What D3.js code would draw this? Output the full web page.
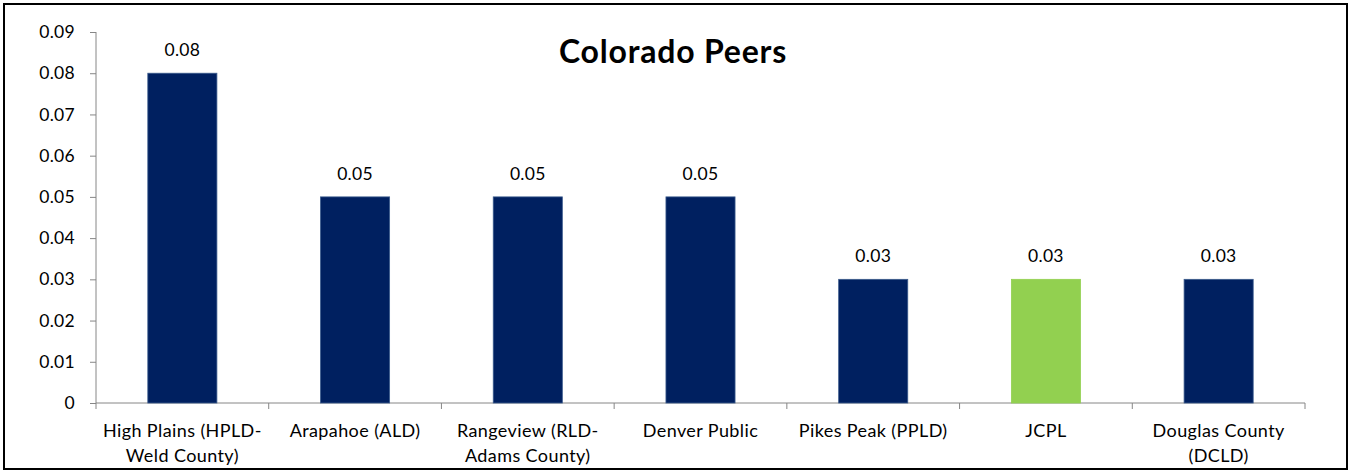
<!DOCTYPE html>
<html><head><meta charset="utf-8">
<script src="https://cdn.jsdelivr.net/npm/d3@7"></script>
<style>html,body{margin:0;padding:0;background:#fff;}svg{display:block;}</style>
</head><body>
<script>
const categories = [["High Plains (HPLD-","Weld County)"],["Arapahoe (ALD)"],["Rangeview (RLD-","Adams County)"],["Denver Public"],["Pikes Peak (PPLD)"],["JCPL"],["Douglas County","(DCLD)"]];
const values = [0.08, 0.05, 0.05, 0.05, 0.03, 0.03, 0.03];
const highlight = [false, false, false, false, false, true, false];
const yTicks = [0, 0.01, 0.02, 0.03, 0.04, 0.05, 0.06, 0.07, 0.08, 0.09];
const title = "Colorado Peers";

(function(){
const W = 1351, H = 473;
const font = "Lato, 'Open Sans', sans-serif";
const svg = d3.select("body").append("svg").attr("width", W).attr("height", H);
svg.append("rect").attr("x",4).attr("y",4).attr("width",W-8).attr("height",H-8)
  .attr("fill","#fff").attr("stroke","#000").attr("stroke-width",2);

const pl = 96, pr = 1305, pt = 32, pb = 403;
const x = d3.scaleBand().domain(d3.range(categories.length)).range([pl, pr]).paddingInner(0.6).paddingOuter(0.3);
const y = d3.scaleLinear().domain([0, 0.09]).range([pb, pt]);

const ya = svg.append("g").attr("transform",`translate(${pl},0)`)
  .call(d3.axisLeft(y).tickValues(yTicks).tickSize(6).tickPadding(15).tickFormat(d => d===0 ? "0" : d3.format(".2f")(d)));
ya.select(".domain").attr("stroke","#868686").attr("d",`M0,${pt}V${pb}`);
ya.selectAll(".tick line").attr("stroke","#868686");
ya.selectAll(".tick text").attr("font-family",font).attr("font-size",17.5).attr("letter-spacing",0.3).attr("fill","#000");

const bandW = (pr-pl)/categories.length;
const xa = svg.append("g").attr("transform",`translate(0,${pb})`);
xa.append("line").attr("x1",pl).attr("x2",pr).attr("stroke","#868686");
xa.selectAll(".xt").data(d3.range(categories.length+1)).join("line")
  .attr("x1",i=>pl+i*bandW).attr("x2",i=>pl+i*bandW).attr("y1",0).attr("y2",6).attr("stroke","#868686");

svg.selectAll(".bar").data(values).join("rect")
  .attr("x",(d,i)=>x(i)).attr("width",x.bandwidth())
  .attr("y",d=>y(d)).attr("height",d=>pb-y(d))
  .attr("fill",(d,i)=>highlight[i] ? "#92D050" : "#002060")
  .attr("stroke",(d,i)=>highlight[i] ? "#92D050" : "#3a5a8c").attr("stroke-width",0.8);

svg.selectAll(".val").data(values).join("text")
  .attr("x",(d,i)=>x(i)+x.bandwidth()/2).attr("y",d=>y(d)-17)
  .attr("text-anchor","middle").attr("font-family",font).attr("font-size",17.5).attr("letter-spacing",0.3).attr("fill","#000")
  .text(d=>d3.format(".2f")(d));

categories.forEach((lines,i)=>{
  const t = svg.append("text").attr("text-anchor","middle").attr("font-family",font).attr("font-size",18).attr("letter-spacing",0.4).attr("fill","#000");
  lines.forEach((ln,j)=>{
    t.append("tspan").attr("x",x(i)+x.bandwidth()/2).attr("y",437+j*25).text(ln);
  });
});

svg.append("text").attr("x",673).attr("y",63).attr("text-anchor","middle")
  .attr("font-family",font).attr("font-weight","bold").attr("font-size",32).attr("letter-spacing",0.8).attr("fill","#000").text(title);
})();
</script>
</body></html>
